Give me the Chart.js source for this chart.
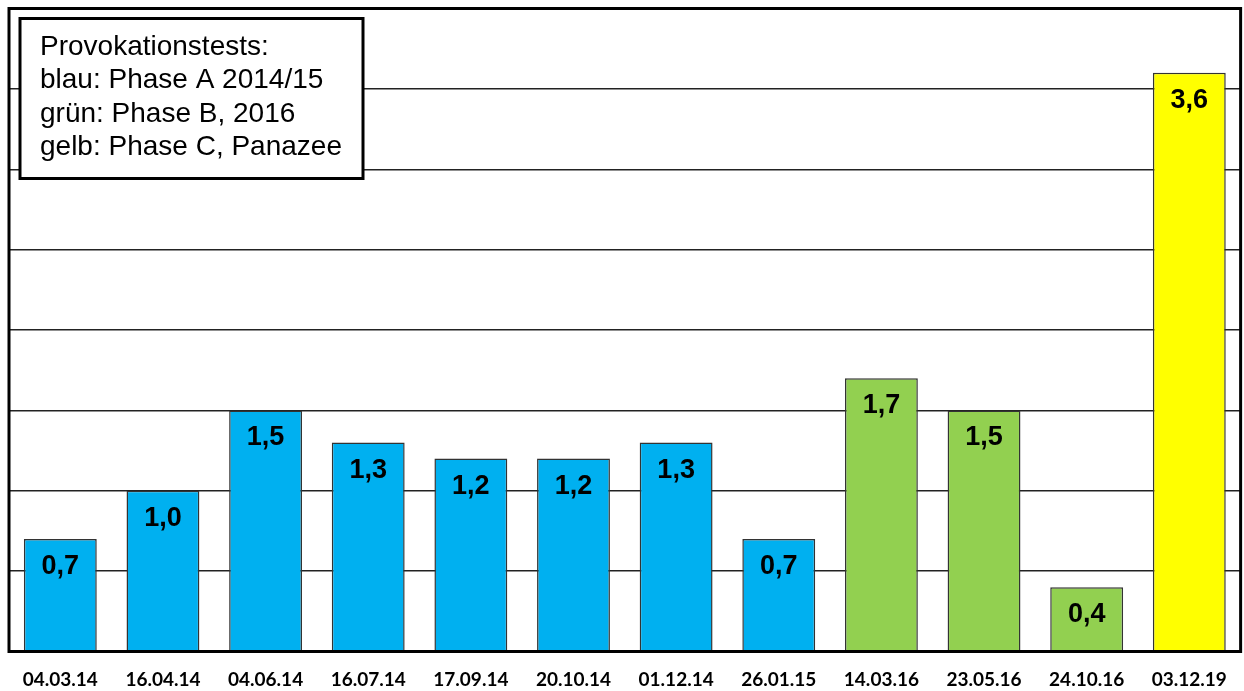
<!DOCTYPE html>
<html>
<head>
<meta charset="utf-8">
<script src="https://cdn.jsdelivr.net/npm/chart.js@4/dist/chart.umd.min.js"></script>
<style>
  html, body { margin: 0; padding: 0; background: #fff; }
  #wrap { position: relative; width: 1244px; height: 691px; }
</style>
</head>
<body>
<div id="wrap"><canvas id="chart"></canvas></div>
<script>
// Messtermine und Werte
var dates = ["04.03.14", "16.04.14", "04.06.14", "16.07.14", "17.09.14", "20.10.14",
             "01.12.14", "26.01.15", "14.03.16", "23.05.16", "24.10.16", "03.12.19"];
var values = [0.7, 1.0, 1.5, 1.3, 1.2, 1.2, 1.3, 0.7, 1.7, 1.5, 0.4, 3.6];
var phases = ["A", "A", "A", "A", "A", "A", "A", "A", "B", "B", "B", "C"];

var phaseColors = { A: "#00B0F0", B: "#92D050", C: "#FFFF00" };

var infoLines = [
    "Provokationstests:",
    "blau: Phase A 2014/15",
    "grün: Phase B, 2016",
    "gelb: Phase C, Panazee"
];

var yMax = 4;
var yStep = 0.5;

// Wert oben in den Balken schreiben (mit Komma)
const valueLabels = {
    id: "valueLabels",
    afterDatasetsDraw(chart) {
        const ctx = chart.ctx;
        const meta = chart.getDatasetMeta(0);
        ctx.save();
        ctx.font = "bold 27px 'Liberation Sans', Arial, sans-serif";
        ctx.fillStyle = "#000";
        ctx.textAlign = "center";
        ctx.textBaseline = "alphabetic";
        meta.data.forEach((bar, i) => {
            const txt = values[i].toFixed(1).replace(".", ",");
            ctx.fillText(txt, bar.x, bar.y + 35);
        });
        ctx.restore();
    }
};

// dicker Rahmen + Textkasten oben links
const frameAndInfo = {
    id: "frameAndInfo",
    afterDraw(chart) {
        const ctx = chart.ctx;
        const a = chart.chartArea;
        ctx.save();
        ctx.strokeStyle = "#000";
        ctx.lineWidth = 3;
        ctx.strokeRect(a.left, a.top, a.right - a.left, a.bottom - a.top);

        ctx.fillStyle = "#fff";
        ctx.fillRect(20, 18.5, 343, 160);
        ctx.strokeRect(20, 18.5, 343, 160);

        ctx.fillStyle = "#000";
        ctx.font = "28px 'Liberation Sans', Arial, sans-serif";
        ctx.textAlign = "left";
        ctx.textBaseline = "alphabetic";
        infoLines.forEach((line, i) => {
            ctx.fillText(line, 40, 55 + i * 33.3);
        });
        ctx.restore();
    }
};

const context = document.getElementById("chart").getContext("2d");

new Chart(context, {
    type: "bar",
    data: {
        labels: dates,
        datasets: [{
            data: values,
            backgroundColor: phases.map(p => phaseColors[p]),
            borderColor: "#333",
            borderWidth: 1.5,
            barPercentage: 0.71,
            categoryPercentage: 1.0
        }]
    },
    options: {
        responsive: true,
        maintainAspectRatio: false,
        animation: false,
        layout: {
            padding: { left: 9, top: 8.5, right: 3, bottom: 0 }
        },
        scales: {
            x: {
                grid: { display: false, drawTicks: false },
                border: { display: false },
                ticks: {
                    color: "#000",
                    padding: 17,
                    maxRotation: 0,
                    font: { family: "Lato", weight: "bold", size: 19 }
                },
                // feste Höhe für die Datumszeile
                afterFit: (scale) => { scale.height = 39.5; }
            },
            y: {
                min: 0,
                max: yMax,
                ticks: { display: false, stepSize: yStep },
                grid: { color: "#222", lineWidth: 1.4, drawTicks: false },
                border: { display: false }
            }
        },
        plugins: {
            legend: { display: false },
            tooltip: { enabled: false }
        }
    },
    plugins: [valueLabels, frameAndInfo]
});
</script>
</body>
</html>
